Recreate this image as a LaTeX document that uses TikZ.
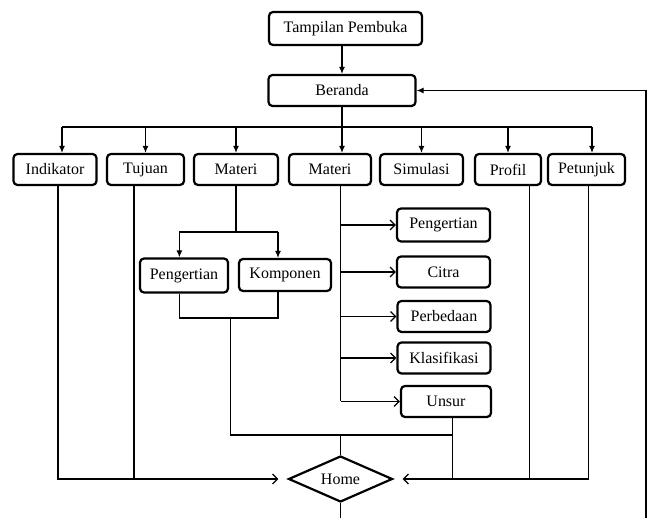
\documentclass[tikz,border=0pt]{standalone}
\usepackage{fontspec}
\setmainfont{Liberation Serif}
\usetikzlibrary{arrows.meta, calc, positioning, shapes.geometric}

\begin{document}
\begin{tikzpicture}[
    x=1pt, y=-1pt,
    box/.style={draw, rounded corners=4pt, line width=2.2pt, minimum height=31pt, inner sep=2pt, font=\fontsize{16}{19}\selectfont},
    homebox/.style={draw, diamond, aspect=2.3, line width=2.2pt, minimum width=104pt, minimum height=46pt, inner sep=1pt, font=\fontsize{16}{19}\selectfont},
    line/.style={line width=1.2pt},
    arr/.style={line, -{Latex[length=7pt, width=6pt]}},
    openarr/.style={line, -{Straight Barb[length=5pt, width=10pt]}}
]
\useasboundingbox (0,0) rectangle (649,518);

% Kopf
\node[box, minimum width=153, minimum height=33] (open) at (345.5,28.5) {Tampilan Pembuka};
\node[box, minimum width=147] (beranda) at (342,90.5) {Beranda};

% Menüzeile
\node[box, minimum width=83] (ind) at (55,169.5) {Indikator};
\node[box, minimum width=77] (tuj) at (145.5,169.5) {Tujuan};
\node[box, minimum width=84] (mat1) at (236,169.5) {Materi};
\node[box, minimum width=82] (mat2) at (330,169.5) {Materi};
\node[box, minimum width=83] (sim) at (421.5,169.5) {Simulasi};
\node[box, minimum width=66] (prof) at (508,169.5) {Profil};
\node[box, minimum width=77] (pet) at (586.5,169.5) {Petunjuk};

% Unterpunkte Materi (links)
\node[box, minimum width=88, minimum height=34] (pengL) at (184,275.5) {Pengertian};
\node[box, minimum width=92, minimum height=32] (komp) at (285,275) {Komponen};

% Unterpunkte Materi (rechts)
\node[box, minimum width=93, minimum height=33] (peng2) at (443.5,225) {Pengertian};
\node[box, minimum width=93] (citra) at (443.5,272) {Citra};
\node[box, minimum width=93] (beda) at (444,316.5) {Perbedaan};
\node[box, minimum width=93] (klas) at (444,358) {Klasifikasi};
\node[box, minimum width=90] (unsur) at (446,401.5) {Unsur};

% Home
\node[homebox] (home) at (340.5,479) {Home};

% Hilfskoordinaten
\coordinate (busL) at (62,127);
\coordinate (busR) at (592,127);
\coordinate (splitL) at (179.4,232);
\coordinate (splitR) at (278,232);
\coordinate (joinL) at (179.4,318);
\coordinate (joinR) at (278,318);
\coordinate (joinM) at (230.5,318);
\coordinate (mergeL) at (230.5,435);
\coordinate (indB) at (58,186);
\coordinate (tujB) at (134,186);
\coordinate (profB) at (529.5,186);
\coordinate (petB) at (588.5,186);
\coordinate (unsurB) at (452.7,418);
\coordinate (endR) at (646,518);

% Tampilan -> Beranda
\draw[arr] (beranda.north |- open.south) -- (beranda.north);

% Beranda -> Menüzeile
\draw[line] (beranda.south) -- (beranda.south |- busL);
\draw[line] (busL) -- (busR);
\draw[arr] (busL) -- (busL |- ind.north);
\draw[arr] (busR) -- (busR |- pet.north);
\draw[arr] (beranda.south |- busL) -- (beranda.south |- mat2.north);
\foreach \n in {tuj, mat1, sim, prof}
  \draw[arr] (\n.north |- busL) -- (\n.north);

% Materi (links)
\draw[line] (mat1.south) -- (mat1.south |- splitL);
\draw[line] (splitL) -- (splitR);
\draw[arr] (splitL) -- (splitL |- pengL.north);
\draw[arr] (splitR) -- (splitR |- komp.north);
\draw[line] (splitL |- pengL.south) -- (joinL) -- (joinR) -- (splitR |- komp.south);
\draw[line] (joinM) -- (mergeL) -- (unsurB |- mergeL);

% Materi (rechts)
\draw[line] (mat2.south -| home.north) -- (home.north |- unsur.west);
\foreach \n in {peng2, citra, beda, klas, unsur}
  \draw[openarr] (home.north |- \n.west) -- (\n.west);
\draw[line] (unsurB) -- (unsurB |- home.east);
\draw[line] (home.north |- mergeL) -- (home.north);

% Rückwege zu Home
\draw[openarr, shorten >=9pt] (indB) |- (home.west);
\draw[line] (tujB) -- (tujB |- home.west);
\draw[openarr, shorten >=9pt] (petB) |- (home.east);
\draw[line] (profB) -- (profB |- home.east);

% Home -> Beranda
\draw[line] (home.south) -- (home.south |- endR);
\draw[arr] (endR) -- (endR |- beranda.east) -- (beranda.east);

\end{tikzpicture}
\end{document}
